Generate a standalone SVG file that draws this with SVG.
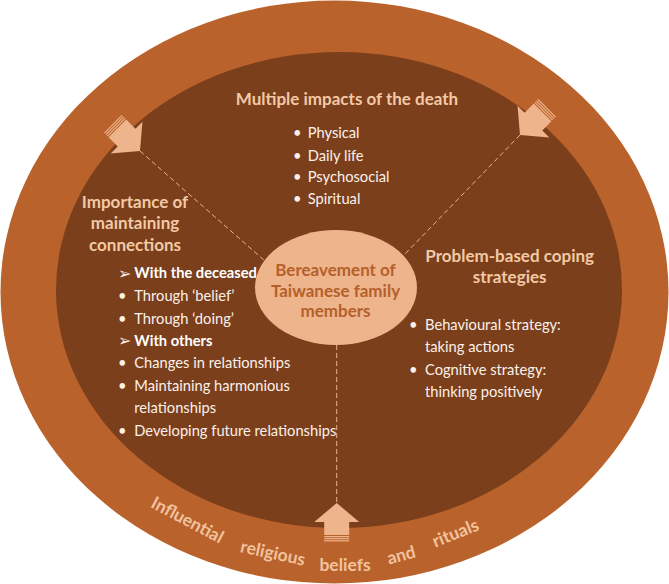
<svg xmlns="http://www.w3.org/2000/svg" width="669" height="584" viewBox="0 0 669 584">
<defs>
<style>
.head{font-family:Lato,"Open Sans","Liberation Sans",sans-serif;font-weight:bold;font-size:17px;fill:#F3C9A5}
.item{font-family:Lato,"Open Sans","Liberation Sans",sans-serif;font-size:14.7px;fill:#FBF1EA}
.itemb{font-family:Lato,"Open Sans","Liberation Sans",sans-serif;font-size:14.7px;font-weight:bold;fill:#FFFFFF}
.sym{font-family:"DejaVu Sans",sans-serif;font-size:16px;fill:#FBF1EA}
.center{font-family:Lato,"Open Sans","Liberation Sans",sans-serif;font-weight:bold;font-size:17px;fill:#B5602B}
.ring{font-family:Lato,"Open Sans","Liberation Sans",sans-serif;font-weight:bold;font-size:17.5px;fill:#F2C29E}
.dash{stroke:#E9B38E;stroke-width:1;stroke-dasharray:5 3;fill:none}
.arrow{fill:#EEB48C}
</style>
<g id="blockArrow">
<polygon points="0,0 -19,-22.5 -19,-12.5 -32,-12.5 -32,12.5 -19,12.5 -19,22.5"/>
<rect x="-34.2" y="-12.5" width="1.2" height="25"/>
<rect x="-36.3" y="-12.5" width="1.2" height="25"/>
<rect x="-38.4" y="-12.5" width="1.2" height="25"/>
</g>
</defs>
<g id="outer-ring">
<ellipse cx="334.5" cy="292" rx="334" ry="291.5" fill="#B9622C"/>
</g>
<g id="inner-disk">
<ellipse cx="339" cy="290" rx="283" ry="238" fill="#7B3F1C"/>
</g>
<g id="connectors">
<line class="dash" x1="140" y1="151" x2="265" y2="261"/>
<line class="dash" x1="520" y1="135" x2="405" y2="254"/>
<line class="dash" x1="336.7" y1="345" x2="336.7" y2="503"/>
</g>
<g id="arrow-top-left" class="arrow"><use href="#blockArrow" transform="translate(140,151) rotate(45)"/></g>
<g id="arrow-top-right" class="arrow"><use href="#blockArrow" transform="translate(520,135) rotate(135)"/></g>
<g id="arrow-bottom" class="arrow"><use href="#blockArrow" transform="translate(336.7,503) rotate(-90)"/></g>
<g id="node-center">
<ellipse cx="336" cy="287.5" rx="81" ry="57.5" fill="#EEB48C"/>
<text class="center" text-anchor="middle" x="335.5" y="276">Bereavement of</text>
<text class="center" text-anchor="middle" x="335.5" y="296.5">Taiwanese family</text>
<text class="center" text-anchor="middle" x="335.5" y="317">members</text>
</g>
<g id="node-impacts">
<text class="head" text-anchor="middle" x="347" y="105">Multiple impacts of the death</text>
<text class="item" x="293" y="138">•</text><text class="item" x="307.7" y="138">Physical</text>
<text class="item" x="293" y="160.7">•</text><text class="item" x="307.7" y="160.7">Daily life</text>
<text class="item" x="293" y="182.3">•</text><text class="item" x="307.7" y="182.3">Psychosocial</text>
<text class="item" x="293" y="204">•</text><text class="item" x="307.7" y="204">Spiritual</text>
</g>
<g id="node-connections">
<text class="head" text-anchor="middle" x="135" y="207.7">Importance of</text>
<text class="head" text-anchor="middle" x="135" y="228.5">maintaining</text>
<text class="head" text-anchor="middle" x="135" y="250.5">connections</text>
<text class="sym" x="118" y="279">➢</text><text class="itemb" x="134.3" y="278.3">With the deceased</text>
<text class="item" x="118" y="301.3">•</text><text class="item" x="134.3" y="301.3">Through ‘belief’</text>
<text class="item" x="118" y="323.8">•</text><text class="item" x="134.3" y="323.8">Through ‘doing’</text>
<text class="sym" x="118" y="346.4">➢</text><text class="itemb" x="134.3" y="345.7">With others</text>
<text class="item" x="118" y="368.3">•</text><text class="item" x="134.3" y="368.3">Changes in relationships</text>
<text class="item" x="118" y="391">•</text><text class="item" x="134.3" y="391">Maintaining harmonious</text>
<text class="item" x="134.3" y="413.3">relationships</text>
<text class="item" x="118" y="436.3">•</text><text class="item" x="134.3" y="436.3">Developing future relationships</text>
</g>
<g id="node-coping">
<text class="head" text-anchor="middle" x="509.7" y="261.7">Problem-based coping</text>
<text class="head" text-anchor="middle" x="509.7" y="282.5">strategies</text>
<text class="item" x="409" y="330">•</text><text class="item" x="425" y="330">Behavioural strategy:</text>
<text class="item" x="425" y="351.7">taking actions</text>
<text class="item" x="409" y="375">•</text><text class="item" x="425" y="375">Cognitive strategy:</text>
<text class="item" x="425" y="396.5">thinking positively</text>
</g>
<g id="ring-label">
<text class="ring" text-anchor="middle" transform="translate(184.7,525.3) rotate(28)">Influential</text>
<text class="ring" text-anchor="middle" transform="translate(271.7,558.9) rotate(12)">religious</text>
<text class="ring" text-anchor="middle" transform="translate(345,570.7)">beliefs</text>
<text class="ring" text-anchor="middle" transform="translate(402.8,560.8) rotate(-15)">and</text>
<text class="ring" text-anchor="middle" transform="translate(457.7,538.6) rotate(-22)">rituals</text>
</g>
</svg>
